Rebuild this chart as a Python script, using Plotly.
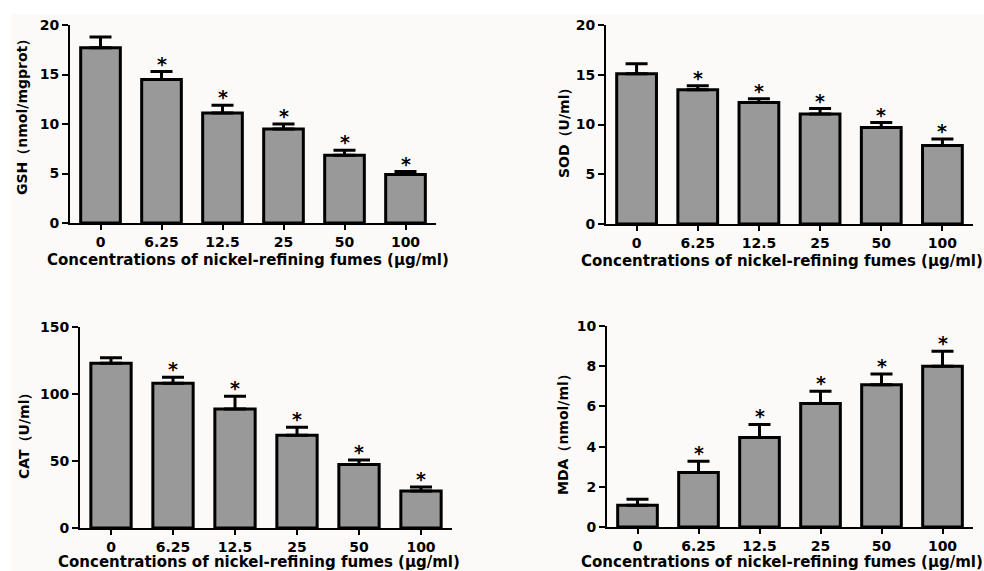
import plotly.graph_objects as go

categories = ["0", "6.25", "12.5", "25", "50", "100"]

gsh_mean = [17.7, 14.5, 11.1, 9.5, 6.85, 4.9]
gsh_err = [1.1, 0.8, 0.8, 0.5, 0.5, 0.3]

sod_mean = [15.1, 13.5, 12.2, 11.05, 9.7, 7.9]
sod_err = [1.0, 0.4, 0.4, 0.55, 0.5, 0.65]

cat_mean = [123, 108, 88.8, 69.2, 47.3, 27.6]
cat_err = [4.0, 4.5, 9.5, 6.0, 3.5, 3.0]

mda_mean = [1.08, 2.71, 4.45, 6.15, 7.08, 8.0]
mda_err = [0.3, 0.56, 0.65, 0.6, 0.53, 0.75]

significant = ["", "*", "*", "*", "*", "*"]

y_titles = ["GSH（nmol/mgprot）", "SOD（U/ml）", "CAT（U/ml）", "MDA（nmol/ml）"]
y_ranges = [[0, 20], [0, 20], [0, 150], [0, 10]]
y_dticks = [5, 5, 50, 2]
x_title = "Concentrations of nickel-refining fumes (μg/ml)"

W, H = 984, 571
# panel pixel boxes: (left, right, top, bottom)
boxes = [(70, 436, 25, 223), (606, 973, 25, 224), (80, 452, 327, 528), (607, 973, 326, 527)]
# title centres in pixels: (ytitle_x, ytitle_y, xtitle_x, xtitle_y)
title_pos = [(22, 114, 248, 260), (564, 130, 782, 261), (24, 433, 259, 562), (563, 431, 782, 562)]

FONT = dict(family="DejaVu Sans", size=15, color="black", weight="bold")
TICK_FONT = dict(family="DejaVu Sans", size=14, color="black", weight="bold")
YT_FONT = dict(family="DejaVu Sans", size=14, color="black", weight="bold")
STAR_FONT = dict(family="DejaVu Sans", size=19, color="black", weight="bold")
BAR_FILL = "#999999"

fig = go.Figure()
series = [(gsh_mean, gsh_err), (sod_mean, sod_err), (cat_mean, cat_err), (mda_mean, mda_err)]
annotations = []

for i, (mean, err) in enumerate(series):
    n = "" if i == 0 else str(i + 1)
    xa, ya = "x" + n, "y" + n
    fig.add_trace(go.Bar(
        x=categories, y=mean, xaxis=xa, yaxis=ya, width=0.65,
        marker=dict(color=BAR_FILL, line=dict(color="black", width=3)),
        error_y=dict(type="data", array=err, arrayminus=[0] * len(err), symmetric=False,
                     color="black", thickness=3, width=11),
        showlegend=False, hoverinfo="skip",
    ))
    for j, (m, e, s) in enumerate(zip(mean, err, significant)):
        if s:
            annotations.append(dict(
                x=j, y=m + e, xref=xa, yref=ya, text=s, showarrow=False,
                font=STAR_FONT, xanchor="center", yanchor="bottom", yshift=-5,
            ))
    yx, yy, xx, xy = title_pos[i]
    annotations.append(dict(
        x=yx / W, y=1 - yy / H, xref="paper", yref="paper", text=y_titles[i],
        textangle=-90, showarrow=False, font=YT_FONT, xanchor="center", yanchor="middle",
    ))
    annotations.append(dict(
        x=xx / W, y=1 - xy / H, xref="paper", yref="paper", text=x_title,
        showarrow=False, font=FONT, xanchor="center", yanchor="middle",
    ))

layout = dict(
    width=W, height=H, margin=dict(l=0, r=0, t=0, b=0, autoexpand=False),
    paper_bgcolor="white", plot_bgcolor="rgba(0,0,0,0)",
    font=FONT,
    shapes=[dict(type="rect", xref="paper", yref="paper", x0=11 / W, x1=1, y0=0, y1=1 - 14 / H,
                 fillcolor="#fcfaf9", line=dict(width=0), layer="below")],
    annotations=annotations,
)

for i, (l, r, t, b) in enumerate(boxes):
    n = "" if i == 0 else str(i + 1)
    layout["xaxis" + n] = dict(
        domain=[l / W, r / W], anchor="y" + n, type="category", range=[-0.5, 5.5],
        showline=True, linecolor="black", linewidth=2, ticks="outside", ticklen=5,
        tickwidth=2, tickcolor="black", showgrid=False, zeroline=False,
        tickfont=TICK_FONT, automargin=False, fixedrange=True,
    )
    layout["yaxis" + n] = dict(
        domain=[1 - b / H, 1 - t / H], anchor="x" + n, range=y_ranges[i], dtick=y_dticks[i],
        showline=True, linecolor="black", linewidth=2, ticks="outside", ticklen=6,
        tickwidth=2, tickcolor="black", showgrid=False, zeroline=False,
        tickfont=TICK_FONT, automargin=False, fixedrange=True,
    )

fig.update_layout(**layout)
fig.write_html("out.html", config={"displayModeBar": False},
               post_script="document.body.style.margin='0';document.body.style.overflow='hidden';")
